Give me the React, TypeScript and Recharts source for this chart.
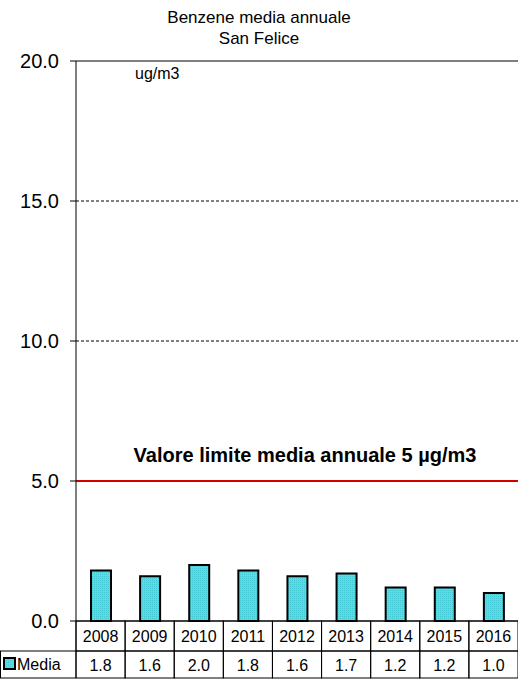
import React from 'react'
import { BarChart, Bar, XAxis, YAxis, ReferenceLine, Customized } from 'recharts'

const years = ['2008', '2009', '2010', '2011', '2012', '2013', '2014', '2015', '2016']
const media = [1.8, 1.6, 2.0, 1.8, 1.6, 1.7, 1.2, 1.2, 1.0]
const yTicks = [0, 5, 10, 15, 20]
const limitValue = 5

const W = 518
const H = 680
const LEFT = 76
const CELL = (W - LEFT) / years.length
const FONT = '"Liberation Sans", Arial, sans-serif'

const data = years.map((year, i) => ({ year, media: media[i] }))

// tabella dati sotto l'asse x
const TableTick = ({ x, y, payload }: any) => {
  const v = media[payload.index]
  return (
    <g>
      <rect x={x - CELL / 2} y={y} width={CELL} height={30} fill="none" stroke="#000" />
      <text x={x} y={y + 21} textAnchor="middle" fontSize={16} fill="#000" fontFamily={FONT}>
        {payload.value}
      </text>
      <rect x={x - CELL / 2} y={y + 30} width={CELL} height={27} fill="none" stroke="#000" />
      <text x={x} y={y + 50} textAnchor="middle" fontSize={16} fill="#000" fontFamily={FONT}>
        {v.toFixed(1)}
      </text>
    </g>
  )
}

const LegendCell = () => (
  <g>
    <line x1={0} y1={651} x2={LEFT} y2={651} stroke="#000" />
    <line x1={0} y1={678} x2={LEFT} y2={678} stroke="#000" />
    <line x1={0.5} y1={651} x2={0.5} y2={678} stroke="#000" />
    <line x1={LEFT} y1={621} x2={LEFT} y2={678} stroke="#000" />
    <rect x={4} y={658} width={11} height={11} fill="url(#hatch)" stroke="#000" strokeWidth={2} />
    <text x={17} y={670} fontSize={16} fill="#000" fontFamily={FONT}>Media</text>
  </g>
)

const App = () => {
  return (
    <div style={{ position: 'absolute', left: 0, top: 0, width: W, height: H, background: '#fff', fontFamily: FONT }}>
      <svg width={0} height={0} style={{ position: 'absolute' }}>
        <defs>
          <pattern id="hatch" width={2} height={2} patternUnits="userSpaceOnUse">
            <rect width={2} height={2} fill="#62d8e2" />
            <rect width={1} height={1} fill="#44c8d4" />
          </pattern>
        </defs>
      </svg>
      <div style={{ position: 'absolute', left: 0, top: 7, width: W, textAlign: 'center', fontSize: 17, lineHeight: '21px', color: '#000' }}>
        <div>Benzene media annuale</div>
        <div>San Felice</div>
      </div>
      <div style={{ position: 'absolute', left: 135, top: 65, fontSize: 16, color: '#000' }}>ug/m3</div>
      <BarChart
        width={W}
        height={H}
        data={data}
        margin={{ top: 61, right: 0, left: 0, bottom: 0 }}
      >
        <XAxis
          dataKey="year"
          axisLine={{ stroke: '#000' }}
          tickLine={false}
          tickSize={0}
          tickMargin={0}
          interval={0}
          height={59}
          tick={<TableTick />}
        />
        <YAxis
          domain={[0, 20]}
          ticks={yTicks}
          width={LEFT}
          axisLine={{ stroke: '#000' }}
          tickLine={{ stroke: '#000' }}
          tickSize={6}
          tickMargin={11}
          tickFormatter={(v: number) => v.toFixed(1)}
          tick={{ fontSize: 20, fill: '#000', fontFamily: FONT }}
        />
        <ReferenceLine y={20} stroke="#000" />
        <ReferenceLine y={15} stroke="#000" strokeDasharray="3 2" />
        <ReferenceLine y={10} stroke="#000" strokeDasharray="3 2" />
        <ReferenceLine
          y={limitValue}
          stroke="#d40000"
          strokeWidth={2}
          label={{
            value: 'Valore limite media annuale 5 µg/m3',
            position: 'top',
            dx: 8,
            offset: 19,
            fill: '#000',
            fontSize: 20,
            fontWeight: 'bold',
            fontFamily: FONT
          }}
        />
        <Bar
          dataKey="media"
          fill="url(#hatch)"
          stroke="#000"
          strokeWidth={2}
          barSize={20}
          isAnimationActive={false}
        />
        <Customized component={LegendCell} />
      </BarChart>
    </div>
  )
}

export default App
